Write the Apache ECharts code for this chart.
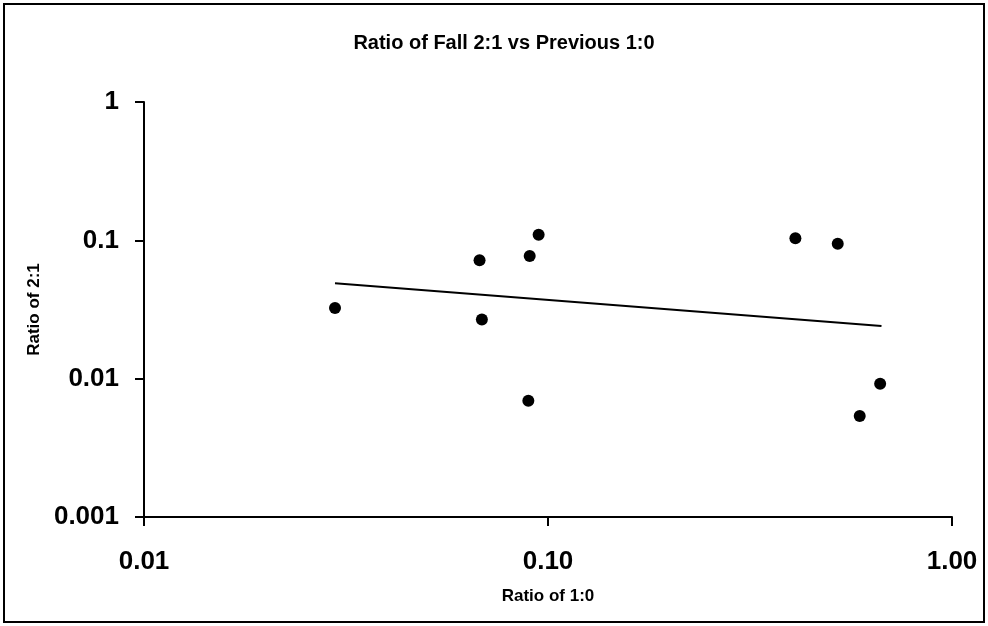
<!DOCTYPE html>
<html>
<head>
<meta charset="utf-8">
<script src="https://cdn.jsdelivr.net/npm/echarts@6/dist/echarts.min.js"></script>
<style>
html,body{margin:0;padding:0;background:#fff;}
#main{width:988px;height:626px;}
</style>
</head>
<body>
<div id="main"></div>
<script>
// Data
var ratio10 = [0.0297, 0.0677, 0.0686, 0.0901, 0.0948, 0.0894, 0.4096, 0.5214, 0.664, 0.591];
var ratio21 = [0.0324, 0.0717, 0.0268, 0.0770, 0.1098, 0.00692, 0.1034, 0.0945, 0.00919, 0.00537];
var trendX = [0.0297, 0.669];
var trendY = [0.0489, 0.0240];
var xTickLabels = ['0.01', '0.10', '1.00'];
var yTickLabels = ['0.001', '0.01', '0.1', '1'];

var points = ratio10.map(function (x, i) { return [x, ratio21[i]]; });
var trend = trendX.map(function (x, i) { return [x, trendY[i]]; });

function decadeLabel(labels, minExp) {
  return function (v) {
    var e = Math.round(Math.log10(v));
    var idx = e - minExp;
    return labels[idx] !== undefined ? labels[idx] : '';
  };
}

var font = 'Liberation Sans, Arial, sans-serif';
var chart = echarts.init(document.getElementById('main'), null, {renderer: 'canvas'});
chart.setOption({
  animation: false,
  backgroundColor: '#fff',
  title: {
    text: 'Ratio of Fall 2:1 vs Previous 1:0',
    left: 499, top: 28, textAlign: 'center',
    textStyle: {fontFamily: font, fontSize: 20, fontWeight: 'bold', color: '#000'}
  },
  graphic: [{
    type: 'rect', shape: {x: 4, y: 4, width: 980, height: 618},
    style: {fill: 'none', stroke: '#000', lineWidth: 2}, silent: true
  }],
  grid: {left: 144, right: 36, top: 102, bottom: 109},
  xAxis: {
    type: 'log', logBase: 10, min: 0.01, max: 1,
    name: 'Ratio of 1:0', nameLocation: 'middle', nameGap: 71,
    nameTextStyle: {fontFamily: font, fontSize: 17, fontWeight: 'bold', color: '#000'},
    axisLine: {lineStyle: {color: '#000', width: 2}},
    axisTick: {show: true, length: 9, lineStyle: {color: '#000', width: 2}},
    axisLabel: {fontFamily: font, fontSize: 26, fontWeight: 'bold', color: '#000', margin: 32,
      formatter: decadeLabel(xTickLabels, -2)},
    splitLine: {show: false},
    minorTick: {show: false}
  },
  yAxis: {
    type: 'log', logBase: 10, min: 0.001, max: 1,
    name: 'Ratio of 2:1', nameLocation: 'middle', nameGap: 101, nameRotate: 90,
    nameTextStyle: {fontFamily: font, fontSize: 17, fontWeight: 'bold', color: '#000'},
    axisLine: {lineStyle: {color: '#000', width: 2}},
    axisTick: {show: true, length: 9, lineStyle: {color: '#000', width: 2}},
    axisLabel: {fontFamily: font, fontSize: 26, fontWeight: 'bold', color: '#000', margin: 25,
      formatter: decadeLabel(yTickLabels, -3)},
    splitLine: {show: false}
  },
  series: [
    {
      type: 'line', data: trend, symbol: 'none',
      lineStyle: {color: '#000', width: 2}, silent: true, z: 2
    },
    {
      type: 'scatter', data: points, symbol: 'circle', symbolSize: 12,
      itemStyle: {color: '#000', opacity: 1}, z: 3
    }
  ]
});
</script>
</body>
</html>
